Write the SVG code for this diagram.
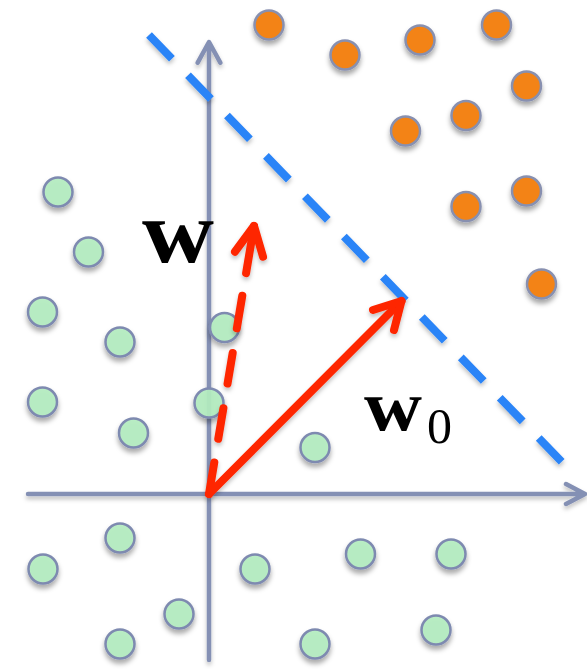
<svg xmlns="http://www.w3.org/2000/svg" width="587" height="669" viewBox="0 0 587 669">
  <defs>
    <filter id="sh" x="-50%" y="-50%" width="200%" height="200%">
      <feDropShadow dx="0" dy="4" stdDeviation="2.5" flood-color="#000" flood-opacity="0.35"/>
    </filter>
    <filter id="shs" x="-10%" y="-10%" width="120%" height="120%">
      <feDropShadow dx="0" dy="3" stdDeviation="2" flood-color="#000" flood-opacity="0.25"/>
    </filter>
  </defs>
  <style>
    .axis { stroke: #8490b4; stroke-width: 4.5; fill: none; stroke-linecap: round; stroke-linejoin: round; }
    .g { fill: #b4edc0; fill-opacity: 0.92; stroke: #7e8ab0; stroke-width: 2.5; }
    .o { fill: #f38314; stroke: #8890b0; stroke-width: 2.5; }
    .red { stroke: #fe2606; stroke-width: 8; fill: none; stroke-linecap: round; stroke-linejoin: round; }
    .blue { stroke: #2b84f7; stroke-width: 8; fill: none; stroke-dasharray: 33 23.06; }
    .lbl { font-family: "Liberation Serif", "Times New Roman", serif; fill: #000; }
  </style>

  <g id="axes" filter="url(#shs)">
    <path class="axis" d="M209,660 V43 M197.7,62.7 L209,42 L220.3,62.7"/>
    <path class="axis" d="M28,494 H585 M566,484 L585,494 L566,504"/>
  </g>

  <g id="green-points" filter="url(#sh)">
    <circle class="g" cx="58" cy="192" r="14.5"/>
    <circle class="g" cx="88.5" cy="252" r="14.5"/>
    <circle class="g" cx="42.5" cy="312" r="14.5"/>
    <circle class="g" cx="120" cy="342" r="14.5"/>
    <circle class="g" cx="224.5" cy="327.5" r="14.5"/>
    <circle class="g" cx="42.5" cy="402" r="14.5"/>
    <circle class="g" cx="133.5" cy="433" r="14.5"/>
    <circle class="g" cx="209" cy="403" r="14.5"/>
    <circle class="g" cx="315" cy="447.5" r="14.5"/>
    <circle class="g" cx="120" cy="538" r="14.5"/>
    <circle class="g" cx="43" cy="569" r="14.5"/>
    <circle class="g" cx="255" cy="569" r="14.5"/>
    <circle class="g" cx="360.5" cy="554" r="14.5"/>
    <circle class="g" cx="451" cy="554" r="14.5"/>
    <circle class="g" cx="179" cy="614" r="14.5"/>
    <circle class="g" cx="120" cy="644" r="14.5"/>
    <circle class="g" cx="315" cy="644" r="14.5"/>
    <circle class="g" cx="436" cy="630" r="14.5"/>
  </g>

  <g id="orange-points" filter="url(#sh)">
    <circle class="o" cx="269" cy="25" r="14.5"/>
    <circle class="o" cx="345" cy="55" r="14.5"/>
    <circle class="o" cx="420" cy="40" r="14.5"/>
    <circle class="o" cx="496.5" cy="25" r="14.5"/>
    <circle class="o" cx="526.5" cy="86" r="14.5"/>
    <circle class="o" cx="466" cy="115.5" r="14.5"/>
    <circle class="o" cx="405.5" cy="131" r="14.5"/>
    <circle class="o" cx="526.5" cy="191" r="14.5"/>
    <circle class="o" cx="466" cy="206.5" r="14.5"/>
    <circle class="o" cx="541.5" cy="284" r="14.5"/>
  </g>

  <g id="connectors" filter="url(#shs)">
    <path id="boundary" class="blue" d="M149,35 L561.7,461.7"/>
    <g id="w0-arrow">
      <path class="red" d="M209,494 L401.5,301"/>
      <path class="red" d="M373,310 L401.5,301 L394,330"/>
    </g>
    <g id="w-arrow">
      <path class="red" d="M209,494 L254,226" stroke-width="7" stroke-dasharray="32 24 31 25 31 25 33 23 60" stroke-linecap="butt"/>
      <path class="red" d="M235,251.7 L254,226 L263,256.7" stroke-width="7"/>
    </g>
  </g>

  <g id="labels">
    <text class="lbl" x="142" y="262" font-size="88" font-weight="bold" textLength="72" lengthAdjust="spacingAndGlyphs">w</text>
    <text class="lbl" x="364" y="430" font-size="72" font-weight="bold" textLength="58" lengthAdjust="spacingAndGlyphs">w</text>
    <text class="lbl" x="427" y="443" font-size="50">0</text>
  </g>
</svg>
